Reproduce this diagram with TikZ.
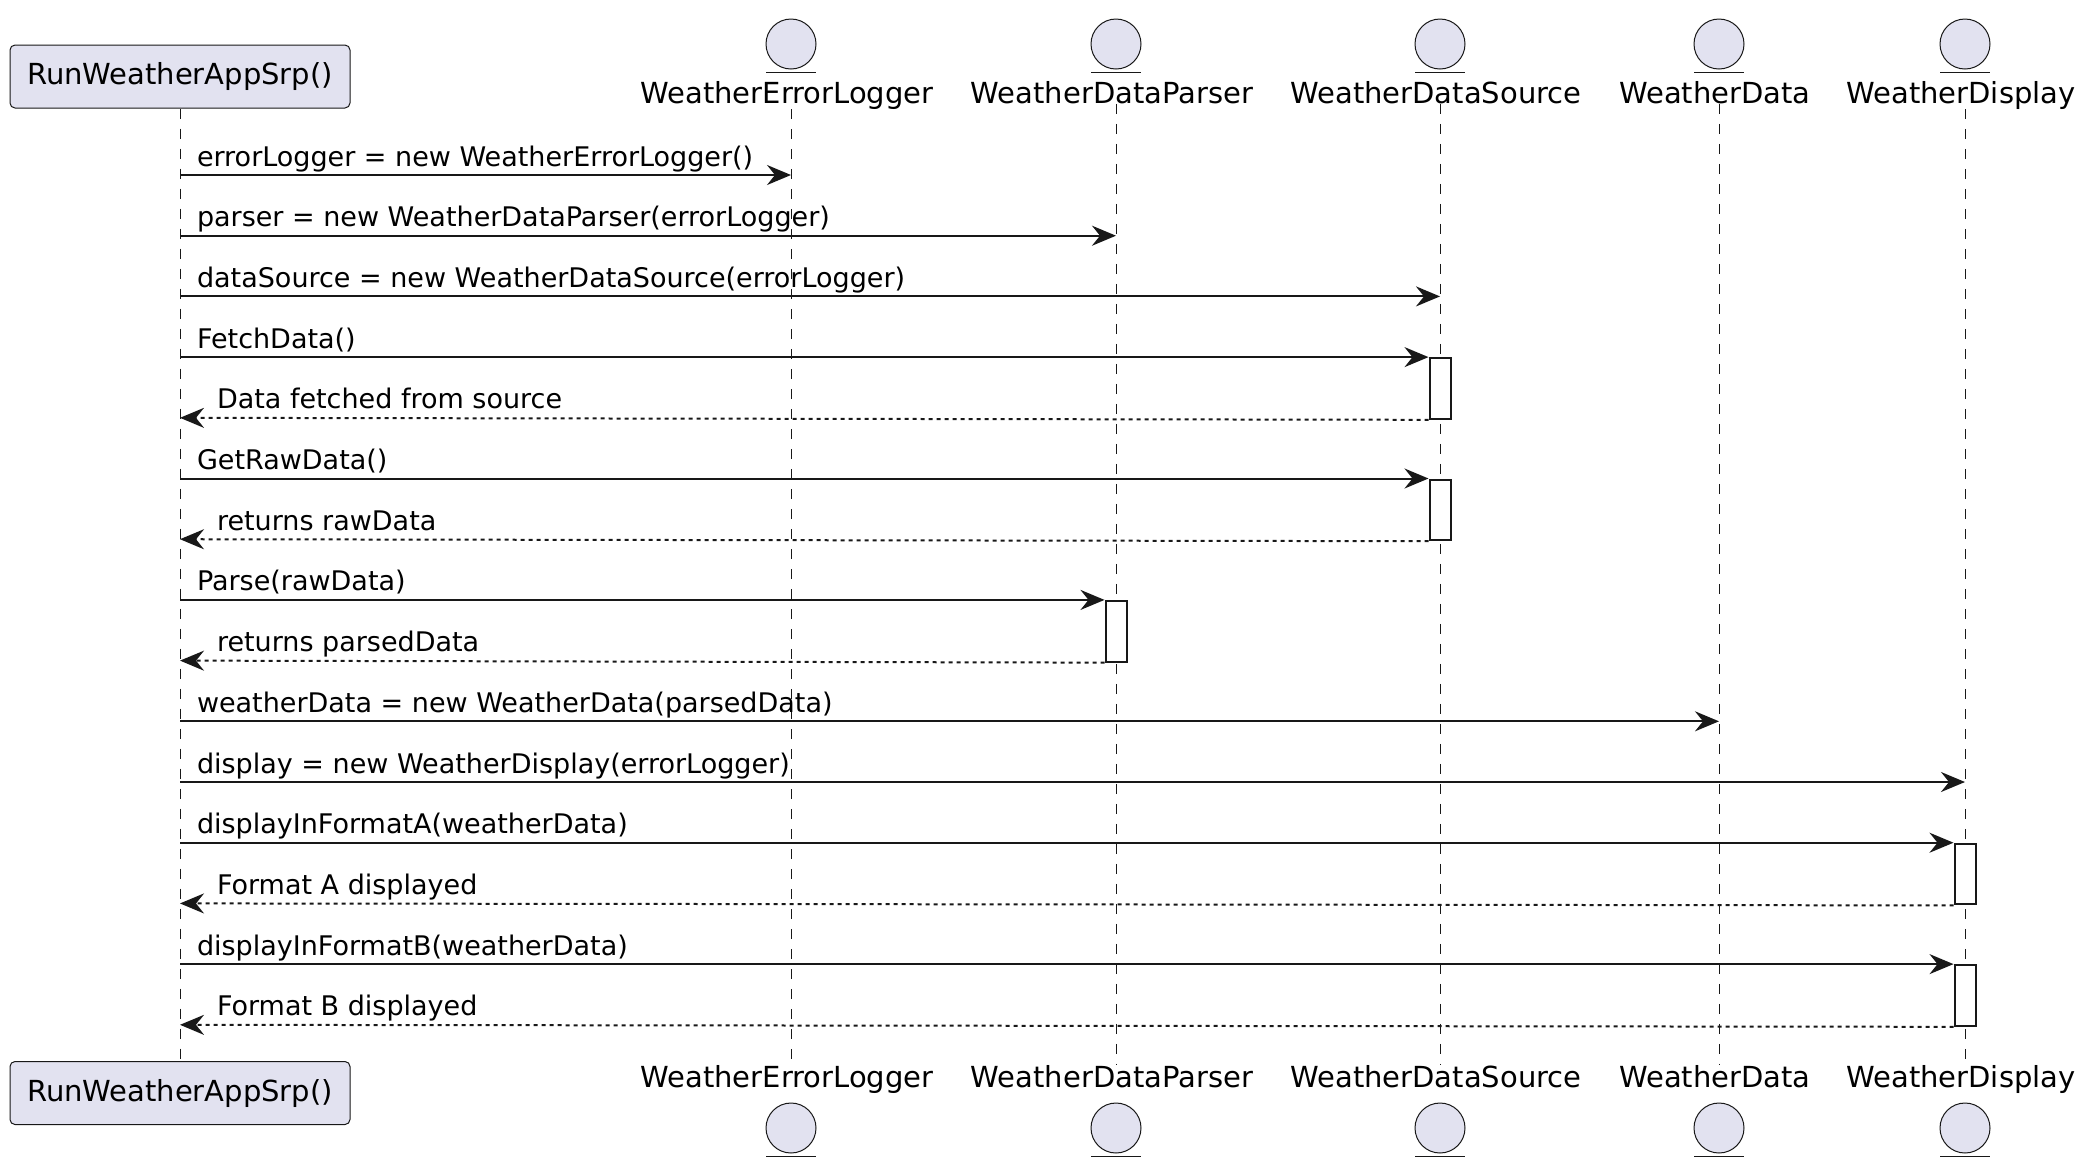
\documentclass[tikz,border=0pt]{standalone}
\usepackage{fontspec}
\setmainfont{DejaVu Sans}
\usetikzlibrary{arrows.meta}

\definecolor{umlfill}{HTML}{E2E2F0}
\definecolor{umlline}{HTML}{181818}

\begin{document}
\begin{tikzpicture}[x=0.5pt, y=-0.5pt,
    partbox/.style={draw=umlline, fill=umlfill, rounded corners=2.5pt, line width=0.5pt,
        minimum width=170pt, minimum height=31.5pt, inner sep=0pt, font=\fontsize{14.5}{17}\selectfont},
    entity/.style={circle, draw=umlline, fill=umlfill, line width=0.5pt, minimum size=25pt, inner sep=0pt},
    entlabel/.style={inner sep=0pt, anchor=base, font=\fontsize{14.5}{17}\selectfont},
    lifeline/.style={umlline, line width=0.5pt, dash pattern=on 5pt off 5pt},
    msg/.style={umlline, line width=1pt, -{Stealth[length=12pt, width=10pt, inset=4pt]}},
    ret/.style={msg, dash pattern=on 2pt off 2pt},
    msgtext/.style={inner sep=0pt, anchor=base west, pos=0, xshift=8pt, yshift=4.5pt,
        text=black, font=\fontsize{13.5}{16}\selectfont},
    rettext/.style={msgtext, pos=1, xshift=10pt},
    act/.style={draw=umlline, fill=white, line width=1pt, minimum width=10.5pt,
        minimum height=30.35pt, inner sep=0pt, anchor=north},
]

\useasboundingbox (0,0) rectangle (2089,1169);

% Caller box, top and bottom
\node[partbox] (runTop) at (180,76.5) {RunWeatherAppSrp()};
\node[partbox] (runBot) at (180,1093) {RunWeatherAppSrp()};

% Entities, top and bottom
\foreach \x/\id/\txt in {791/log/WeatherErrorLogger, 1116/parser/WeatherDataParser,
    1440/src/WeatherDataSource, 1719/data/WeatherData, 1965/disp/WeatherDisplay} {
    \node[entity] (\id Top) at (\x,44) {};
    \draw[umlline, line width=0.5pt] (\x-25,72) -- (\x+25,72);
    \node[entlabel] (\id TopL) at (\x-4,103) {\txt};
    \node[entlabel] (\id BotL) at (\x-4,1087.7) {\txt};
    \node[entity] (\id Bot) at (\x,1128) {};
    \draw[umlline, line width=0.5pt] (\x-25,1156.5) -- (\x+25,1156.5);
}

% Lifelines
\draw[lifeline] (runTop.south) -- (runBot.north);
\foreach \id in {log, parser, src, data, disp} {
    \draw[lifeline] (\id Top |- \id TopL.south) -- (\id Top |- \id BotL.north);
}

% Message rows
\foreach \k in {1,...,15} {
    \coordinate (m\k) at (0,{175+(\k-1)*60.7});
}

% Activation bars
\node[act] (srcAct1) at (srcTop |- m4) {};
\node[act] (srcAct2) at (srcTop |- m6) {};
\node[act] (parserAct) at (parserTop |- m8) {};
\node[act] (dispAct1) at (dispTop |- m12) {};
\node[act] (dispAct2) at (dispTop |- m14) {};

% Messages
\draw[msg] (runTop |- m1) -- node[msgtext] (t1) {errorLogger = new WeatherErrorLogger()} (logTop |- m1);
\draw[msg] (runTop |- m2) -- node[msgtext] (t2) {parser = new WeatherDataParser(errorLogger)} (parserTop |- m2);
\draw[msg] (runTop |- m3) -- node[msgtext] (t3) {dataSource = new WeatherDataSource(errorLogger)} (srcTop |- m3);
\draw[msg] (runTop |- m4) -- node[msgtext] (t4) {FetchData()} (srcAct1.north west);
\draw[ret] (srcAct1.south west) -- node[rettext] (t5) {Data fetched from source} (runTop |- m5);
\draw[msg] (runTop |- m6) -- node[msgtext] (t6) {GetRawData()} (srcAct2.north west);
\draw[ret] (srcAct2.south west) -- node[rettext] (t7) {returns rawData} (runTop |- m7);
\draw[msg] (runTop |- m8) -- node[msgtext] (t8) {Parse(rawData)} (parserAct.north west);
\draw[ret] (parserAct.south west) -- node[rettext] (t9) {returns parsedData} (runTop |- m9);
\draw[msg] (runTop |- m10) -- node[msgtext] (t10) {weatherData = new WeatherData(parsedData)} (dataTop |- m10);
\draw[msg] (runTop |- m11) -- node[msgtext] (t11) {display = new WeatherDisplay(errorLogger)} (dispTop |- m11);
\draw[msg] (runTop |- m12) -- node[msgtext] (t12) {displayInFormatA(weatherData)} (dispAct1.north west);
\draw[ret] (dispAct1.south west) -- node[rettext] (t13) {Format A displayed} (runTop |- m13);
\draw[msg] (runTop |- m14) -- node[msgtext] (t14) {displayInFormatB(weatherData)} (dispAct2.north west);
\draw[ret] (dispAct2.south west) -- node[rettext] (t15) {Format B displayed} (runTop |- m15);

\end{tikzpicture}
\end{document}
